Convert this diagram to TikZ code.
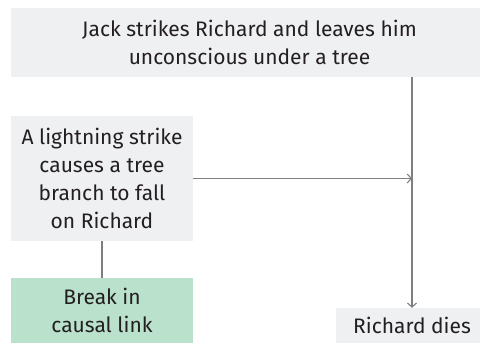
\documentclass[tikz,border=0pt]{standalone}
\usepackage{fontspec}
\setmainfont{Fira Sans}
\usetikzlibrary{arrows.meta}
\definecolor{boxgray}{HTML}{EFF0F2}
\definecolor{boxgreen}{HTML}{B9E1CB}
\definecolor{linegray}{HTML}{7F7F7F}
\definecolor{txt}{HTML}{231F20}
\begin{document}
\begin{tikzpicture}[x=1pt,y=-1pt,
  box/.style={fill=boxgray,draw=none,inner sep=0pt,align=center,text=txt,font=\fontsize{21}{28}\selectfont},
  greenbox/.style={box,fill=boxgreen},
  conn/.style={draw=linegray,line width=1.1pt},
  arr/.style={conn,-{Straight Barb[length=4pt,width=9pt]}}]
\clip (0,0) rectangle (480,343);
\fill[white] (0,0) rectangle (480,343);
\node[box,minimum width=477pt,minimum height=69pt] (top) at (249.5,42.5) {Jack strikes Richard and leaves him\\unconscious under a tree};
\node[box,minimum width=182pt,minimum height=125pt] (left) at (102,178.5) {A lightning strike\\causes a tree\\branch to fall\\on Richard};
\node[greenbox,minimum width=182pt,minimum height=65pt] (green) at (102,310.5) {Break in\\causal link};
\node[box,minimum width=152pt,minimum height=35pt] (dies) at (412,325.5) {Richard dies};
\draw[arr] (top.south -| dies.north) -- (dies.north);
\draw[arr] (left.east) -- (left.east -| dies.north);
\draw[conn] (left.south) -- (green.north);
\end{tikzpicture}
\end{document}
